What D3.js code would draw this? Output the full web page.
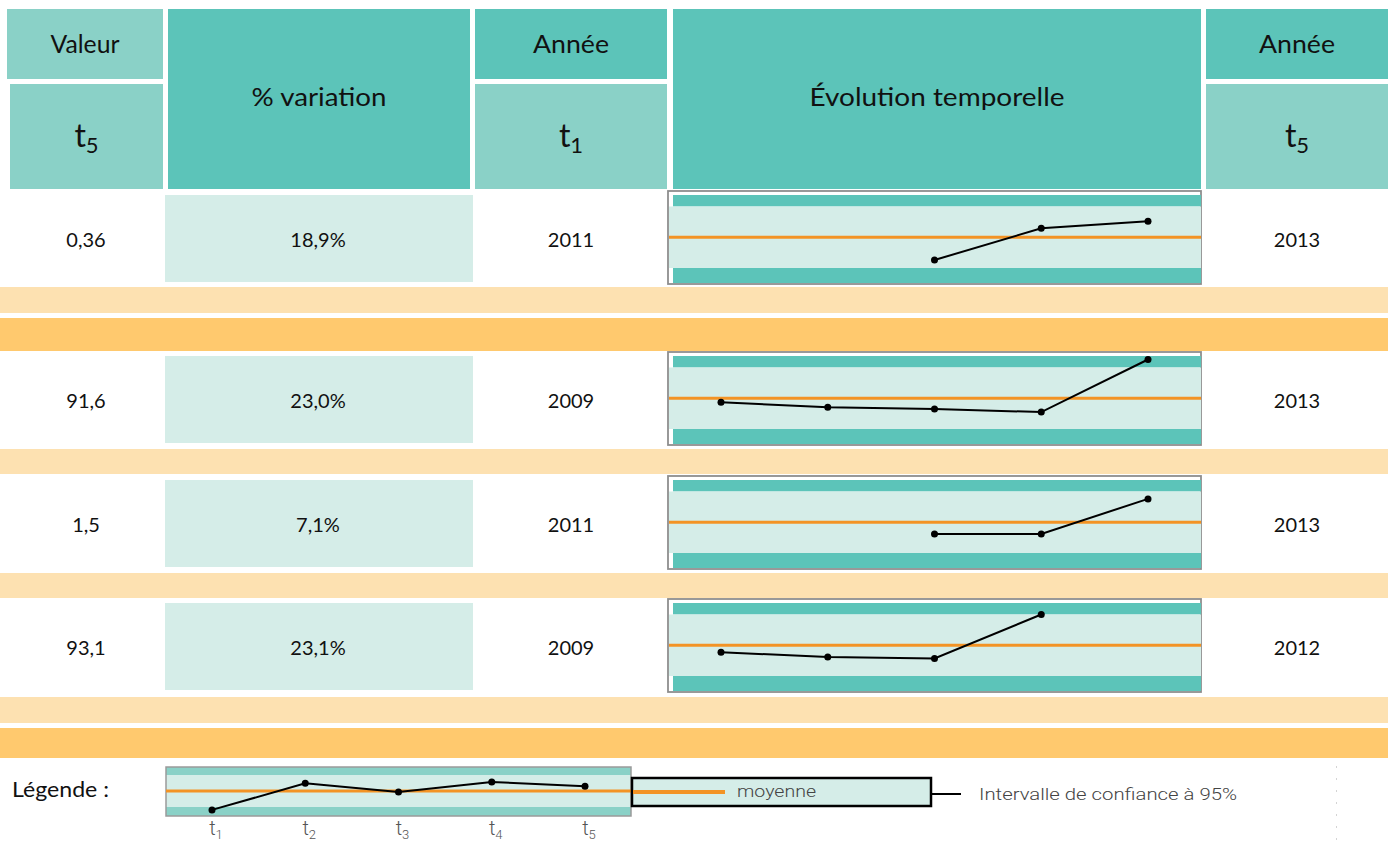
<!DOCTYPE html>
<html><head><meta charset="utf-8">
<script src="https://cdn.jsdelivr.net/npm/d3@7"></script>
<style>
html,body{margin:0;padding:0;background:#fff;}
svg{display:block;}
</style></head><body>
<svg id="chart" width="1388" height="844"></svg>
<script>
// ---------- data ----------
const valeurs = ["0,36", "91,6", "1,5", "93,1"];
const variations = ["18,9%", "23,0%", "7,1%", "23,1%"];
const anneesDebut = ["2011", "2009", "2011", "2009"];
const anneesFin = ["2013", "2013", "2013", "2012"];
const periodes = ["t1", "t2", "t3", "t4", "t5"];
// écart à la moyenne, en demi-largeurs d'intervalle de confiance à 95 %
const serie1 = [null, null, -0.74, 0.29, 0.52];
const serie2 = [-0.13, -0.29, -0.35, -0.45, 1.26];
const serie3 = [null, null, -0.38, -0.38, 0.76];
const serie4 = [-0.23, -0.38, -0.43, 1.0, null];
const serieLegende = [-1.18, 0.48, -0.06, 0.56, 0.30];
const series = [serie1, serie2, serie3, serie4];

// ---------- styles / layout ----------
const C = {teal:"#5cc4b9", tealLight:"#8ad1c7", pale:"#d5ede8",
  orangeLight:"#fde1b1", orangeDark:"#ffc96e", mean:"#f39325", border:"#8e8e8e"};
const FONT = "Lato, 'Open Sans', sans-serif";
const THIN = "Roboto, 'Liberation Sans', sans-serif";
const svg = d3.select("#chart");

// header
const headerCells = [
  {x:7, y:9, w:156, h:70, fill:C.tealLight, label:"Valeur", by:53, tl:69},
  {x:10, y:84, w:153, h:105, fill:C.tealLight, t:"5"},
  {x:168, y:9, w:302, h:180, fill:C.teal, label:"% variation", by:106, tl:135},
  {x:475, y:9, w:192, h:70, fill:C.teal, label:"Année", by:53, tl:76},
  {x:475, y:84, w:192, h:105, fill:C.tealLight, t:"1"},
  {x:673, y:9, w:528, h:180, fill:C.teal, label:"Évolution temporelle", by:106, tl:255},
  {x:1206, y:9, w:182, h:70, fill:C.teal, label:"Année", by:53, tl:76},
  {x:1206, y:84, w:182, h:105, fill:C.tealLight, t:"5"}
];
const hg = svg.append("g");
hg.selectAll("rect").data(headerCells).join("rect")
  .attr("x", d => d.x).attr("y", d => d.y).attr("width", d => d.w).attr("height", d => d.h)
  .attr("fill", d => d.fill);
headerCells.forEach(d => {
  const cx = d.x + d.w / 2;
  if (d.label) {
    hg.append("text").attr("x", cx).attr("y", d.by).attr("text-anchor", "middle")
      .attr("font-family", FONT).attr("font-size", 25).attr("fill", "#111")
      .attr("textLength", d.tl).attr("lengthAdjust", "spacingAndGlyphs").text(d.label);
  } else {
    const t = hg.append("text").attr("x", cx).attr("y", 147).attr("text-anchor", "middle")
      .attr("font-family", FONT).attr("font-size", 32).attr("fill", "#111");
    t.append("tspan").text("t");
    t.append("tspan").attr("dy", 6).attr("font-size", 22).text(d.t);
  }
});

// orange separator bands
const lightBands = [{y:287, h:26}, {y:449, h:25}, {y:573, h:25}, {y:697, h:26}];
const darkBands = [{y:318, h:33}, {y:728, h:30}];
svg.append("g").selectAll("rect").data(lightBands).join("rect")
  .attr("x", 0).attr("y", d => d.y).attr("width", 1388).attr("height", d => d.h).attr("fill", C.orangeLight);
svg.append("g").selectAll("rect").data(darkBands).join("rect")
  .attr("x", 0).attr("y", d => d.y).attr("width", 1388).attr("height", d => d.h).attr("fill", C.orangeDark);

// rows
const rowTops = [191, 352, 476, 599];
const x = d3.scalePoint().domain(periodes).range([721, 1148]);
const boxX0 = 668, boxX1 = 1201;

series.forEach((serie, i) => {
  const top = rowTops[i];
  const g = svg.append("g");
  const y = d3.scaleLinear().domain([-1, 1]).range([top + 77, top + 15.5]);
  g.append("rect").attr("x", 165).attr("y", top + 4).attr("width", 308).attr("height", 87).attr("fill", C.pale);
  const texts = [{x:86, s:valeurs[i]}, {x:318, s:variations[i]}, {x:571, s:anneesDebut[i]}, {x:1297, s:anneesFin[i]}];
  g.selectAll("text.v").data(texts).join("text").attr("class", "v")
    .attr("x", d => d.x).attr("y", top + 56).attr("text-anchor", "middle")
    .attr("font-family", FONT).attr("font-size", 20).attr("fill", "#111").text(d => d.s);
  g.append("rect").attr("x", boxX0).attr("y", top).attr("width", boxX1 - boxX0).attr("height", 93)
    .attr("fill", "#fff").attr("stroke", C.border).attr("stroke-width", 1.8);
  g.append("rect").attr("x", 673).attr("y", top + 4).attr("width", boxX1 - 673).attr("height", y(1) - top - 4).attr("fill", C.teal);
  g.append("rect").attr("x", boxX0 + 1).attr("y", y(1)).attr("width", boxX1 - boxX0 - 1).attr("height", y(-1) - y(1)).attr("fill", C.pale);
  g.append("rect").attr("x", 673).attr("y", y(-1)).attr("width", boxX1 - 673).attr("height", top + 92 - y(-1)).attr("fill", C.teal);
  g.append("line").attr("x1", boxX0 + 1).attr("x2", boxX1).attr("y1", y(0)).attr("y2", y(0))
    .attr("stroke", C.mean).attr("stroke-width", 3);
  const pts = periodes.map((p, k) => ({p, v: serie[k]}));
  const line = d3.line().defined(d => d.v != null).x(d => x(d.p)).y(d => y(d.v));
  g.append("path").attr("d", line(pts)).attr("fill", "none").attr("stroke", "#000").attr("stroke-width", 2);
  g.selectAll("circle").data(pts.filter(d => d.v != null)).join("circle")
    .attr("cx", d => x(d.p)).attr("cy", d => y(d.v)).attr("r", 3.5).attr("fill", "#000");
});

// legend
const lg = svg.append("g");
lg.append("text").attr("x", 12).attr("y", 797).attr("font-family", FONT).attr("font-size", 21)
  .attr("fill", "#111").attr("textLength", 97).attr("lengthAdjust", "spacingAndGlyphs").text("Légende :");
const lx = d3.scalePoint().domain(periodes).range([212, 585]);
const ly = d3.scaleLinear().domain([-1, 1]).range([807, 775]);
lg.append("rect").attr("x", 166).attr("y", 767).attr("width", 465).attr("height", 49).attr("fill", C.tealLight);
lg.append("rect").attr("x", 166).attr("y", ly(1)).attr("width", 465).attr("height", ly(-1) - ly(1)).attr("fill", C.pale);
lg.append("rect").attr("x", 166).attr("y", 767).attr("width", 465).attr("height", 49)
  .attr("fill", "none").attr("stroke", "#9a9a9a").attr("stroke-width", 1.5);
lg.append("line").attr("x1", 166).attr("x2", 631).attr("y1", ly(0)).attr("y2", ly(0))
  .attr("stroke", C.mean).attr("stroke-width", 3);
const lpts = periodes.map((p, k) => ({p, v: serieLegende[k]}));
lg.append("path").attr("d", d3.line().x(d => lx(d.p)).y(d => ly(d.v))(lpts))
  .attr("fill", "none").attr("stroke", "#000").attr("stroke-width", 2);
lg.selectAll("circle").data(lpts).join("circle")
  .attr("cx", d => lx(d.p)).attr("cy", d => ly(d.v)).attr("r", 3.5).attr("fill", "#000");
periodes.forEach(p => {
  const t = lg.append("text").attr("x", lx(p) + 4).attr("y", 835).attr("text-anchor", "middle")
    .attr("font-family", THIN).attr("font-weight", 300).attr("font-size", 20).attr("fill", "#555");
  t.append("tspan").text("t");
  t.append("tspan").attr("dy", 4).attr("font-size", 13).text(p.slice(1));
});
lg.append("rect").attr("x", 632).attr("y", 778).attr("width", 299).attr("height", 28)
  .attr("fill", C.pale).attr("stroke", "#000").attr("stroke-width", 2.5);
lg.append("line").attr("x1", 633).attr("x2", 725).attr("y1", 792).attr("y2", 792)
  .attr("stroke", C.mean).attr("stroke-width", 4);
lg.append("text").attr("x", 737).attr("y", 797).attr("font-family", THIN).attr("font-weight", 300)
  .attr("font-size", 17).attr("fill", "#444").attr("textLength", 79).attr("lengthAdjust", "spacingAndGlyphs").text("moyenne");
lg.append("line").attr("x1", 931).attr("x2", 961).attr("y1", 794).attr("y2", 794)
  .attr("stroke", "#000").attr("stroke-width", 2);
lg.append("text").attr("x", 979).attr("y", 800).attr("font-family", THIN).attr("font-weight", 300)
  .attr("font-size", 17).attr("fill", "#444").attr("textLength", 258).attr("lengthAdjust", "spacingAndGlyphs")
  .text("Intervalle de confiance à 95%");
lg.append("line").attr("x1", 1336.5).attr("x2", 1336.5).attr("y1", 766).attr("y2", 844)
  .attr("stroke", "#d4d4d4").attr("stroke-width", 1).attr("stroke-dasharray", "2,10");
</script>
</body></html>
